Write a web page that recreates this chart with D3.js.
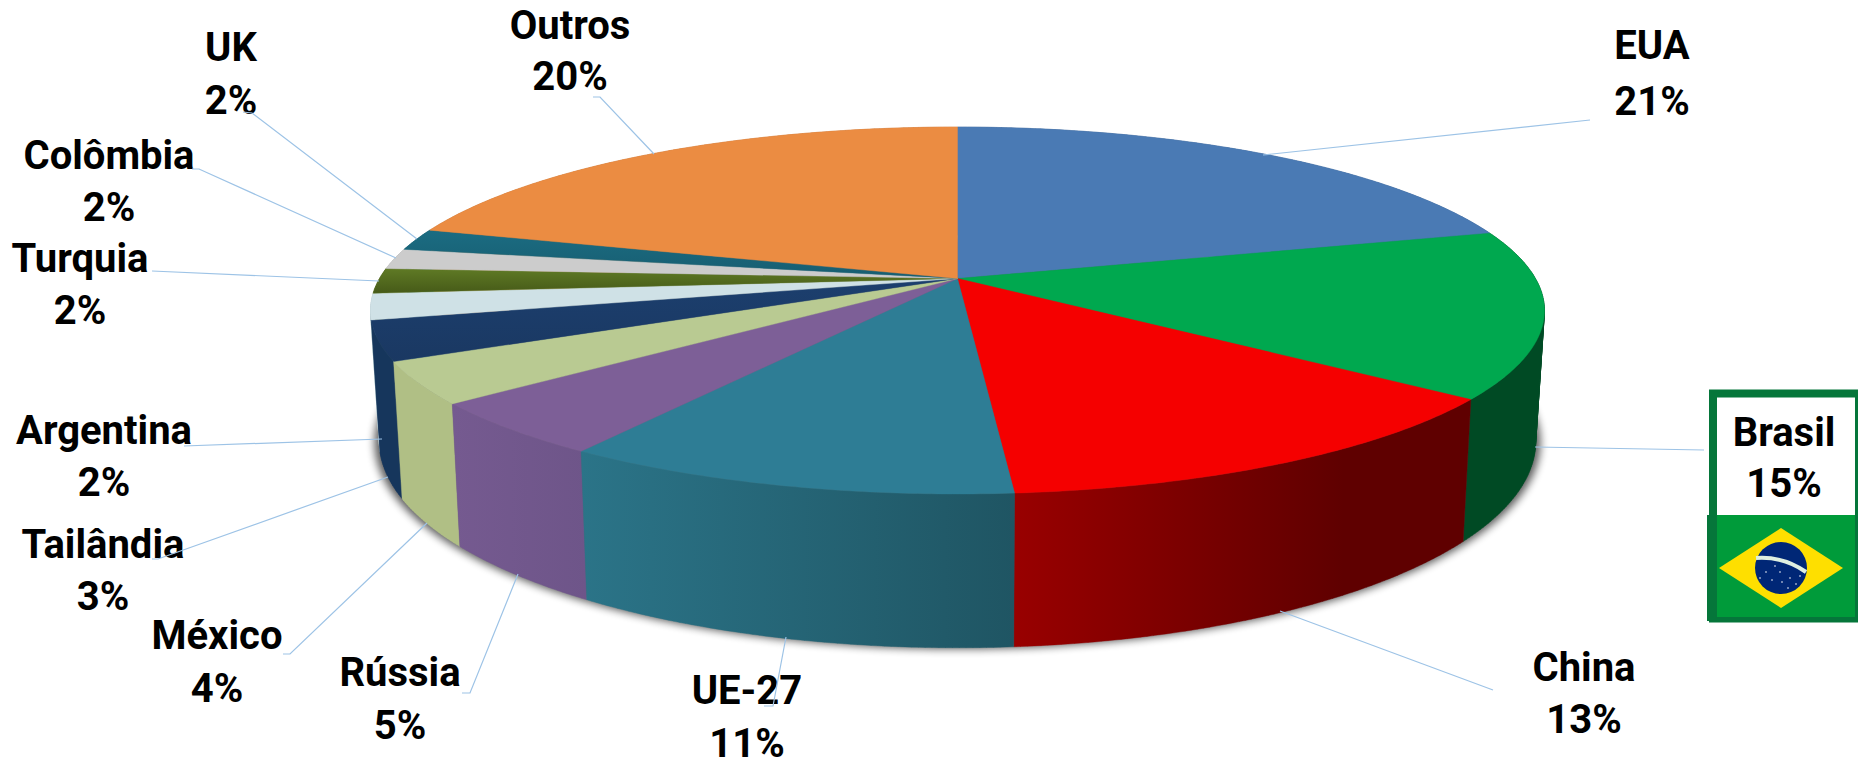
<!DOCTYPE html>
<html>
<head>
<meta charset="utf-8">
<script src="https://cdn.jsdelivr.net/npm/d3@7"></script>
<style>
html, body { margin: 0; padding: 0; background: #fff; overflow: hidden; }
text { font-family: Roboto, sans-serif; font-weight: 700; font-size: 40px; fill: #000; text-anchor: middle; }
</style>
</head>
<body>
<div class="container"></div>
<script>
const WIDTH = 1858;
const HEIGHT = 759;

// slice sizes, labels are the printed ones
const names = ['EUA', 'Brasil', 'China', 'UE-27', 'Rússia', 'México', 'Tailândia', 'Argentina', 'Turquia', 'Colômbia', 'UK', 'Outros'];
const shares = [20.7, 14.7, 13.3, 10.7, 4.8, 3.7, 3.5, 2.3, 2.2, 1.8, 1.9, 20.4];
const printed = ['21%', '15%', '13%', '11%', '5%', '4%', '3%', '2%', '2%', '2%', '2%', '20%'];

const topColors = ['#4a7ab4', '#00a84f', '#f50000', '#2e7d95', '#7d5f97', '#b9ca92', '#1c3f6e', '#cfe1e6', '#5f7a25', '#cccccc', '#1b6c82', '#eb8c42'];
const topColorsLow = ['#4a7ab4', '#00a84f', '#f50000', '#2e7d95', '#7d5f97', '#b9ca92', '#1a3862', '#cfe1e6', '#465a18', '#cccccc', '#175d70', '#eb8c42'];
const sideLeft = ['#3a6090', '#004a24', '#990000', '#2b7488', '#755a90', '#b0bf85', '#16365c', '#b8cbd0', '#465a18', '#a8a8a8', '#155766', '#c07030'];
const sideRight = ['#3a6090', '#004a24', '#5f0000', '#1f5563', '#6e5589', '#b0bf85', '#16365c', '#b8cbd0', '#465a18', '#a8a8a8', '#155766', '#c07030'];
// where along the wall the gradient is finished (the China wall goes flat early)
const sideFinish = [1, 1, 0.72, 1, 1, 1, 1, 1, 1, 1, 1, 1];

const topColor = d3.scaleOrdinal().domain(names).range(topColors);
const lowColor = d3.scaleOrdinal().domain(names).range(topColorsLow);
const leftColor = d3.scaleOrdinal().domain(names).range(sideLeft);
const rightColor = d3.scaleOrdinal().domain(names).range(sideRight);
const finish = d3.scaleOrdinal().domain(names).range(sideFinish);

// label centre (x, first line y, second line y) and leader line for every slice
const labelLayout = {
    'EUA': { x: 1652, y: [45, 101], leader: [[1590, 120], [1263, 155]] },
    'Brasil': { x: 1784, y: [432, 483], leader: [[1704, 450], [1535, 447]] },
    'China': { x: 1584, y: [667, 719], leader: [[1493, 690], [1280, 611]] },
    'UE-27': { x: 747, y: [690, 743], leader: [[764, 706], [773, 706], [786, 637]] },
    'Rússia': { x: 400, y: [672, 725], leader: [[462, 693], [470, 693], [518, 574]] },
    'México': { x: 217, y: [635, 688], leader: [[283, 654], [290, 654], [427, 523]] },
    'Tailândia': { x: 103, y: [544, 596], leader: [[152, 559], [158, 559], [388, 477]] },
    'Argentina': { x: 104, y: [430, 482], leader: [[184, 446], [382, 439]] },
    'Turquia': { x: 80, y: [258, 310], leader: [[152, 271], [379, 281]] },
    'Colômbia': { x: 109, y: [155, 207], leader: [[192, 169], [199, 169], [396, 258]] },
    'UK': { x: 231, y: [47, 100], leader: [[243, 112], [252, 113], [417, 239]] },
    'Outros': { x: 570, y: [25, 76], leader: [[593, 97], [600, 97], [654, 154]] }
};

// perspective of the disc: apex of the pie, radii and vanishing factor
const APEX_X = 957.5;
const APEX_Y = 278.5;
const RX = 578;
const RY = 177.9;
const PERSP = 0.1744;
const DEPTH = 127;
const BOTTOM_SCALE = 0.985;

var topPoint = function (a) {
    var w = 1 + PERSP * Math.cos(a);
    return [APEX_X + RX * Math.sin(a) / w, APEX_Y - RY * Math.cos(a) / w];
};

var bottomPoint = function (a) {
    var w = 1 + PERSP * Math.cos(a);
    return [APEX_X + BOTTOM_SCALE * RX * Math.sin(a) / w, APEX_Y - RY * Math.cos(a) / w + DEPTH / w];
};

var arcAngles = function (a0, a1) {
    var n = Math.max(2, Math.ceil((a1 - a0) / 0.01));
    return d3.range(n + 1).map(function (i) { return a0 + (a1 - a0) * i / n; });
};

var svg = d3.select('.container').append('svg')
    .attr('width', WIDTH)
    .attr('height', HEIGHT)
    .style('display', 'block');

var defs = svg.append('defs');
defs.append('filter').attr('id', 'soft')
    .attr('x', '-10%').attr('y', '-10%').attr('width', '120%').attr('height', '130%')
    .append('feGaussianBlur').attr('stdDeviation', 4);

var line = d3.line();
var pie = d3.pie().sort(null).value(function (d) { return d.share; });
var slices = pie(names.map(function (n, i) { return { name: n, share: shares[i], label: printed[i] }; }));

//soft shadow under the disc, a bit wider than the wall
svg.append('path')
    .attr('d', line(arcAngles(0, 2 * Math.PI).map(function (a) {
        var p = bottomPoint(a);
        return [APEX_X + (p[0] - APEX_X) * 1.008, p[1] + 1];
    })) + 'Z')
    .attr('fill', '#000')
    .attr('opacity', 0.65)
    .attr('filter', 'url(#soft)');

//side walls, far slices first so the near ones cover them
var sideOrder = slices.slice().sort(function (p, q) {
    return Math.cos((q.startAngle + q.endAngle) / 2) - Math.cos((p.startAngle + p.endAngle) / 2);
});

sideOrder.forEach(function (s, i) {
    var angles = arcAngles(s.startAngle, s.endAngle);
    var upper = angles.map(topPoint);
    var lower = angles.map(bottomPoint);
    var xs = d3.extent(upper.concat(lower), function (p) { return p[0]; });
    var id = 'side' + i;
    var grad = defs.append('linearGradient').attr('id', id)
        .attr('gradientUnits', 'userSpaceOnUse')
        .attr('x1', xs[0]).attr('x2', xs[1]).attr('y1', 0).attr('y2', 0);
    grad.append('stop').attr('offset', 0).attr('stop-color', leftColor(s.data.name));
    grad.append('stop').attr('offset', finish(s.data.name)).attr('stop-color', rightColor(s.data.name));
    // quads in one path: a single outline would twist where the rims cross
    var quads = d3.range(angles.length - 1).map(function (k) {
        var pts = [upper[k], upper[k + 1], lower[k + 1], lower[k]];
        // keep the winding the same on both sides of the silhouette
        if (d3.polygonArea(pts) < 0) pts.reverse();
        return line(pts) + 'Z';
    }).join('');
    svg.append('path')
        .attr('d', quads)
        .attr('fill', 'url(#' + id + ')')
        .attr('stroke', 'url(#' + id + ')')
        .attr('stroke-width', 0.4);
});

//top faces
slices.forEach(function (s, i) {
    var grad = defs.append('linearGradient').attr('id', 'face' + i)
        .attr('x1', 0).attr('x2', 0).attr('y1', 0).attr('y2', 1);
    grad.append('stop').attr('offset', 0).attr('stop-color', topColor(s.data.name));
    grad.append('stop').attr('offset', 1).attr('stop-color', lowColor(s.data.name));
});

svg.append('g').selectAll('path').data(slices)
    .enter().append('path')
    .attr('d', function (s) {
        return line([[APEX_X, APEX_Y]].concat(arcAngles(s.startAngle, s.endAngle).map(topPoint))) + 'Z';
    })
    .attr('fill', function (s) { return 'url(#face' + s.index + ')'; })
    .attr('stroke', function (s) { return topColor(s.data.name); })
    .attr('stroke-width', 0.4);

//Brasil box with the flag under its label
var box = svg.append('g');
box.append('rect').attr('x', 1713).attr('y', 393.5).attr('width', 146).attr('height', 225)
    .attr('fill', '#fff').attr('stroke', '#05763a').attr('stroke-width', 8);
box.append('rect').attr('x', 1707).attr('y', 515).attr('width', 151).attr('height', 106).attr('fill', '#05763a');
box.append('rect').attr('x', 1717).attr('y', 515).attr('width', 138).attr('height', 102).attr('fill', '#009b3a');
box.append('polygon').attr('points', '1719,568 1781,528 1843,568 1781,608').attr('fill', '#fedf00');
box.append('circle').attr('cx', 1781).attr('cy', 568).attr('r', 26).attr('fill', '#002776');
box.append('path').attr('d', 'M1756,558 Q1783,556 1806,572').attr('fill', 'none')
    .attr('stroke', '#dff0e0').attr('stroke-width', 4);
[[1766, 572], [1772, 580], [1780, 572], [1782, 582], [1790, 578], [1796, 584], [1760, 578], [1775, 566], [1800, 576], [1788, 588]].forEach(function (p) {
    box.append('circle').attr('cx', p[0]).attr('cy', p[1]).attr('r', 0.8).attr('fill', '#fff');
});

//labels
var labels = svg.append('g').selectAll('g').data(slices).enter().append('g');
labels.append('text')
    .attr('x', function (s) { return labelLayout[s.data.name].x; })
    .attr('y', function (s) { return labelLayout[s.data.name].y[0]; })
    .attr('dy', '0.36em')
    .text(function (s) { return s.data.name; });
labels.append('text')
    .attr('x', function (s) { return labelLayout[s.data.name].x; })
    .attr('y', function (s) { return labelLayout[s.data.name].y[1]; })
    .attr('dy', '0.36em')
    .text(function (s) { return s.data.label; });

//leader lines, the UE-27 one runs over its label
svg.append('g').selectAll('path').data(slices)
    .enter().append('path')
    .attr('d', function (s) { return line(labelLayout[s.data.name].leader); })
    .attr('fill', 'none')
    .attr('stroke', '#9dc3e6')
    .attr('stroke-width', 1.2);
</script>
</body>
</html>
